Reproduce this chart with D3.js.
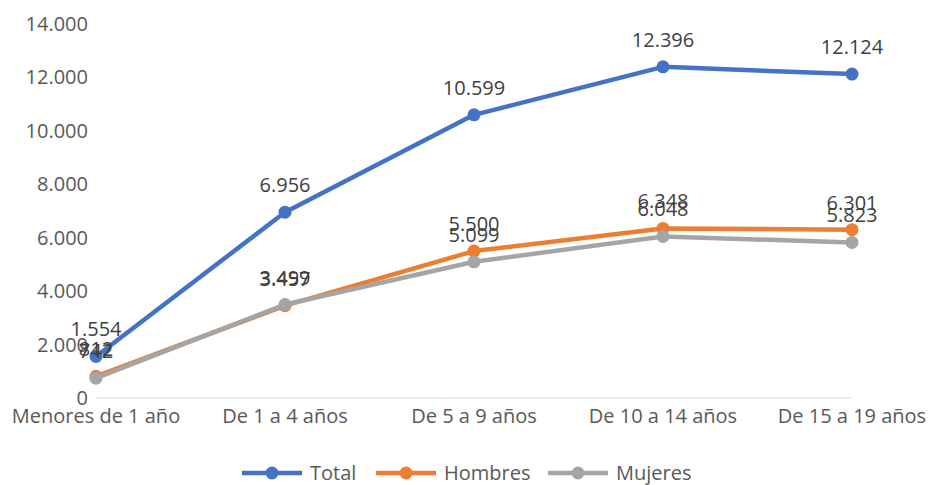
<!DOCTYPE html>
<html>
<head>
<meta charset="utf-8">
<script src="https://cdn.jsdelivr.net/npm/d3@7"></script>
<style>
  body { margin: 0; background: #fff; }
  text { font-family: "Open Sans", sans-serif; }
</style>
</head>
<body>
<svg width="929" height="485"></svg>
<script>
const categories = ["Menores de 1 año", "De 1 a 4 años", "De 5 a 9 años", "De 10 a 14 años", "De 15 a 19 años"];
const total = [1554, 6956, 10599, 12396, 12124];
const hombres = [812, 3457, 5500, 6348, 6301];
const mujeres = [742, 3499, 5099, 6048, 5823];
const yTicks = [0, 2000, 4000, 6000, 8000, 10000, 12000, 14000];

const series = [
  { name: "Total", values: total, color: "#4472C4" },
  { name: "Hombres", values: hombres, color: "#ED7D31" },
  { name: "Mujeres", values: mujeres, color: "#A5A5A5" }
];

const fmt = d3.formatLocale({ decimal: ",", thousands: ".", grouping: [3], currency: ["", ""] }).format(",d");

const svg = d3.select("svg");

const x = d3.scalePoint()
  .domain(categories)
  .range([96, 852]);

const y = d3.scaleLinear()
  .domain([0, 14000])
  .range([398, 24]);

// baseline
svg.append("line")
  .attr("x1", x(categories[0]))
  .attr("x2", x(categories[categories.length - 1]))
  .attr("y1", y(0))
  .attr("y2", y(0))
  .attr("stroke", "#d9d9d9")
  .attr("stroke-width", 1);

// y labels
svg.selectAll(".ytick")
  .data(yTicks)
  .enter()
  .append("text")
  .attr("x", 88)
  .attr("y", d => y(d) + 7)
  .attr("text-anchor", "end")
  .attr("font-size", 20)
  .attr("fill", "#595959")
  .text(d => fmt(d));

// x labels
svg.selectAll(".xtick")
  .data(categories)
  .enter()
  .append("text")
  .attr("x", d => x(d))
  .attr("y", 423)
  .attr("text-anchor", "middle")
  .attr("font-size", 20)
  .attr("fill", "#595959")
  .text(d => d);

const line = d3.line()
  .x((d, i) => x(categories[i]))
  .y(d => y(d));

series.forEach(s => {
  svg.append("path")
    .datum(s.values)
    .attr("fill", "none")
    .attr("stroke", s.color)
    .attr("stroke-width", 4.5)
    .attr("stroke-linejoin", "round")
    .attr("d", line);

  svg.selectAll(null)
    .data(s.values)
    .enter()
    .append("circle")
    .attr("cx", (d, i) => x(categories[i]))
    .attr("cy", d => y(d))
    .attr("r", 6.5)
    .attr("fill", s.color);
});

series.forEach(s => {
  svg.selectAll(null)
    .data(s.values)
    .enter()
    .append("text")
    .attr("x", (d, i) => x(categories[i]))
    .attr("y", d => y(d) - 20)
    .attr("text-anchor", "middle")
    .attr("font-size", 20)
    .attr("fill", "#404040")
    .text(d => fmt(d));
});

// legend
const legendX = [242, 376, 548];
const legend = svg.selectAll(".legend")
  .data(series)
  .enter()
  .append("g")
  .attr("transform", (d, i) => `translate(${legendX[i]},473)`);

legend.append("line")
  .attr("x1", 0)
  .attr("x2", 60)
  .attr("stroke", d => d.color)
  .attr("stroke-width", 4.5);

legend.append("circle")
  .attr("cx", 30)
  .attr("r", 6.5)
  .attr("fill", d => d.color);

legend.append("text")
  .attr("x", 68)
  .attr("y", 7)
  .attr("font-size", 20)
  .attr("fill", "#595959")
  .text(d => d.name);
</script>
</body>
</html>
